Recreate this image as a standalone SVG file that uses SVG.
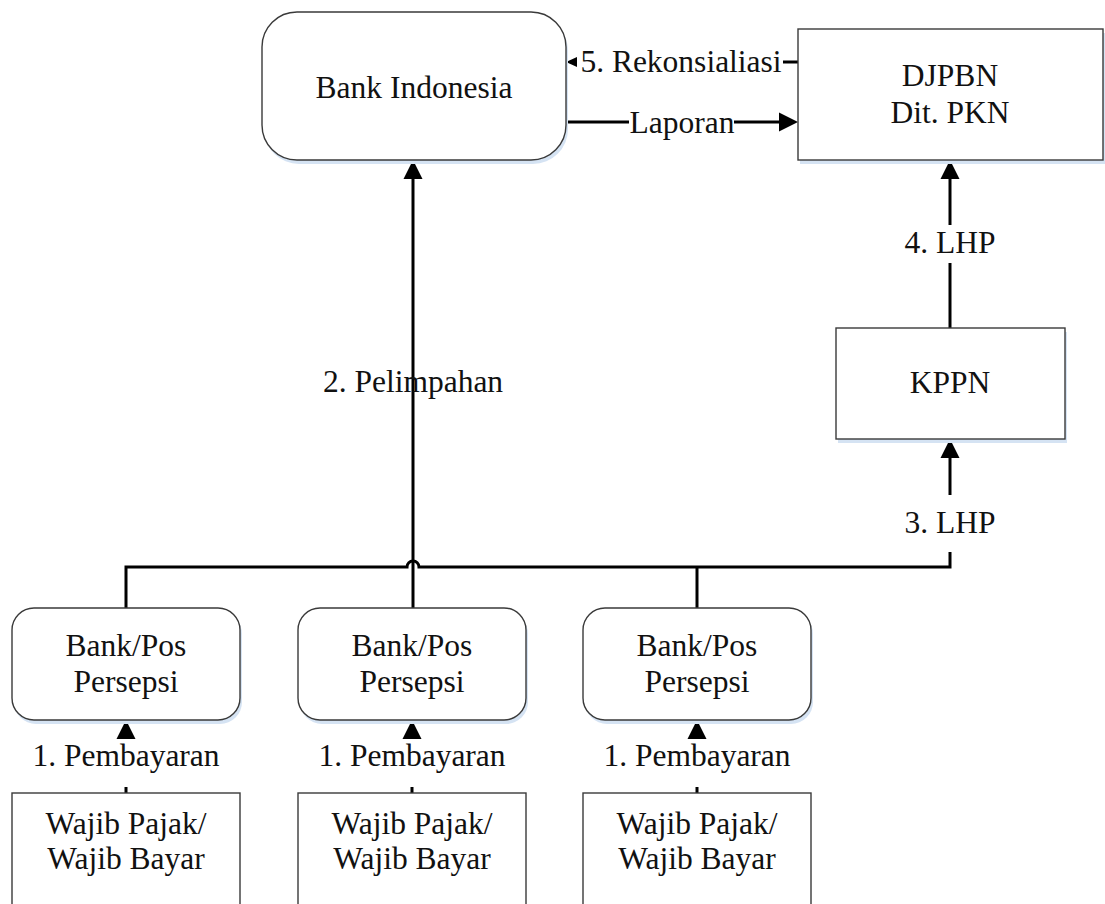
<svg xmlns="http://www.w3.org/2000/svg" width="1105" height="904" viewBox="0 0 1105 904">
<defs>
<style>
.box{fill:#ffffff;stroke:#3a3a3a;stroke-width:1.4}
.sh{fill:#d5e3f3;stroke:none}
.t{font-family:"Liberation Serif","Times New Roman",serif;font-size:31.5px;fill:#111;text-anchor:middle}
.c{fill:none;stroke:#000;stroke-width:3}
.ah{fill:#000;stroke:none}
</style>
<marker id="arr" markerUnits="userSpaceOnUse" markerWidth="19" markerHeight="19" refX="0" refY="9.5" orient="auto" overflow="visible">
<path d="M0,0 L19,9.5 L0,19 z" fill="#000"/>
</marker>
</defs>
<rect width="1105" height="904" fill="#ffffff"/>

<g id="connectors">
<!-- 5. Rekonsialiasi -->
<line class="c" x1="798" y1="62" x2="783" y2="62"/>
<polygon class="ah" points="566,62 577,57 577,67"/>
<!-- Laporan -->
<line class="c" x1="566" y1="122" x2="629" y2="122"/>
<line class="c" x1="734" y1="122" x2="779" y2="122" marker-end="url(#arr)"/>
<!-- 2. Pelimpahan -->
<line class="c" x1="413" y1="402" x2="413" y2="364"/>
<line class="c" x1="413" y1="364" x2="413" y2="179" marker-end="url(#arr)"/>
<path class="c" d="M413,608 V402"/>
<!-- bus -->
<path class="c" d="M126,608 V567 H407 A6,6 0 0 1 419,567 H950 V552"/>
<line class="c" x1="697" y1="567" x2="697" y2="608"/>
<!-- 3. LHP -->
<line class="c" x1="950" y1="495" x2="950" y2="458" marker-end="url(#arr)"/>
<!-- 4. LHP -->
<line class="c" x1="950" y1="328" x2="950" y2="263"/>
<line class="c" x1="950" y1="225" x2="950" y2="179" marker-end="url(#arr)"/>
<!-- 1. Pembayaran -->
<line class="c" x1="126" y1="793" x2="126" y2="787"/>
<polygon class="ah" points="126,720 116.5,739 135.5,739"/>
<line class="c" x1="412" y1="793" x2="412" y2="787"/>
<polygon class="ah" points="412,720 402.5,739 421.5,739"/>
<line class="c" x1="697" y1="793" x2="697" y2="787"/>
<polygon class="ah" points="697,720 687.5,739 706.5,739"/>
<!-- labels -->
<text class="t" x="681" y="72">5. Rekonsialiasi</text>
<text class="t" x="682" y="133">Laporan</text>
<text class="t" x="413" y="392">2. Pelimpahan</text>
<text class="t" x="950" y="253">4. LHP</text>
<text class="t" x="950" y="533">3. LHP</text>
<text class="t" x="126" y="766">1. Pembayaran</text>
<text class="t" x="412" y="766">1. Pembayaran</text>
<text class="t" x="697" y="766">1. Pembayaran</text>
</g>

<g id="bank-indonesia">
<rect class="sh" x="264" y="16" width="304" height="148" rx="35"/>
<rect class="box" x="262" y="12" width="304" height="148" rx="35"/>
<text class="t" x="414" y="98">Bank Indonesia</text>
</g>

<g id="djpbn">
<rect class="sh" x="800" y="33" width="305" height="131"/>
<rect class="box" x="798" y="29" width="305" height="131"/>
<text class="t" x="950" y="86">DJPBN</text>
<text class="t" x="950" y="123">Dit. PKN</text>
</g>

<g id="kppn">
<rect class="sh" x="838" y="332" width="229" height="111"/>
<rect class="box" x="836" y="328" width="229" height="111"/>
<text class="t" x="950" y="393">KPPN</text>
</g>

<g id="bankpos-1">
<rect class="sh" x="14" y="612" width="228" height="112" rx="22"/>
<rect class="box" x="12" y="608" width="228" height="112" rx="22"/>
<text class="t" x="126" y="656">Bank/Pos</text>
<text class="t" x="126" y="692">Persepsi</text>
</g>
<g id="bankpos-2">
<rect class="sh" x="300" y="612" width="228" height="112" rx="22"/>
<rect class="box" x="298" y="608" width="228" height="112" rx="22"/>
<text class="t" x="412" y="656">Bank/Pos</text>
<text class="t" x="412" y="692">Persepsi</text>
</g>
<g id="bankpos-3">
<rect class="sh" x="585" y="612" width="228" height="112" rx="22"/>
<rect class="box" x="583" y="608" width="228" height="112" rx="22"/>
<text class="t" x="697" y="656">Bank/Pos</text>
<text class="t" x="697" y="692">Persepsi</text>
</g>

<g id="wajib-1">
<rect class="box" x="12" y="793" width="228" height="120"/>
<text class="t" x="126" y="834">Wajib Pajak/</text>
<text class="t" x="126" y="869">Wajib Bayar</text>
</g>
<g id="wajib-2">
<rect class="box" x="298" y="793" width="228" height="120"/>
<text class="t" x="412" y="834">Wajib Pajak/</text>
<text class="t" x="412" y="869">Wajib Bayar</text>
</g>
<g id="wajib-3">
<rect class="box" x="583" y="793" width="228" height="120"/>
<text class="t" x="697" y="834">Wajib Pajak/</text>
<text class="t" x="697" y="869">Wajib Bayar</text>
</g>
</svg>
